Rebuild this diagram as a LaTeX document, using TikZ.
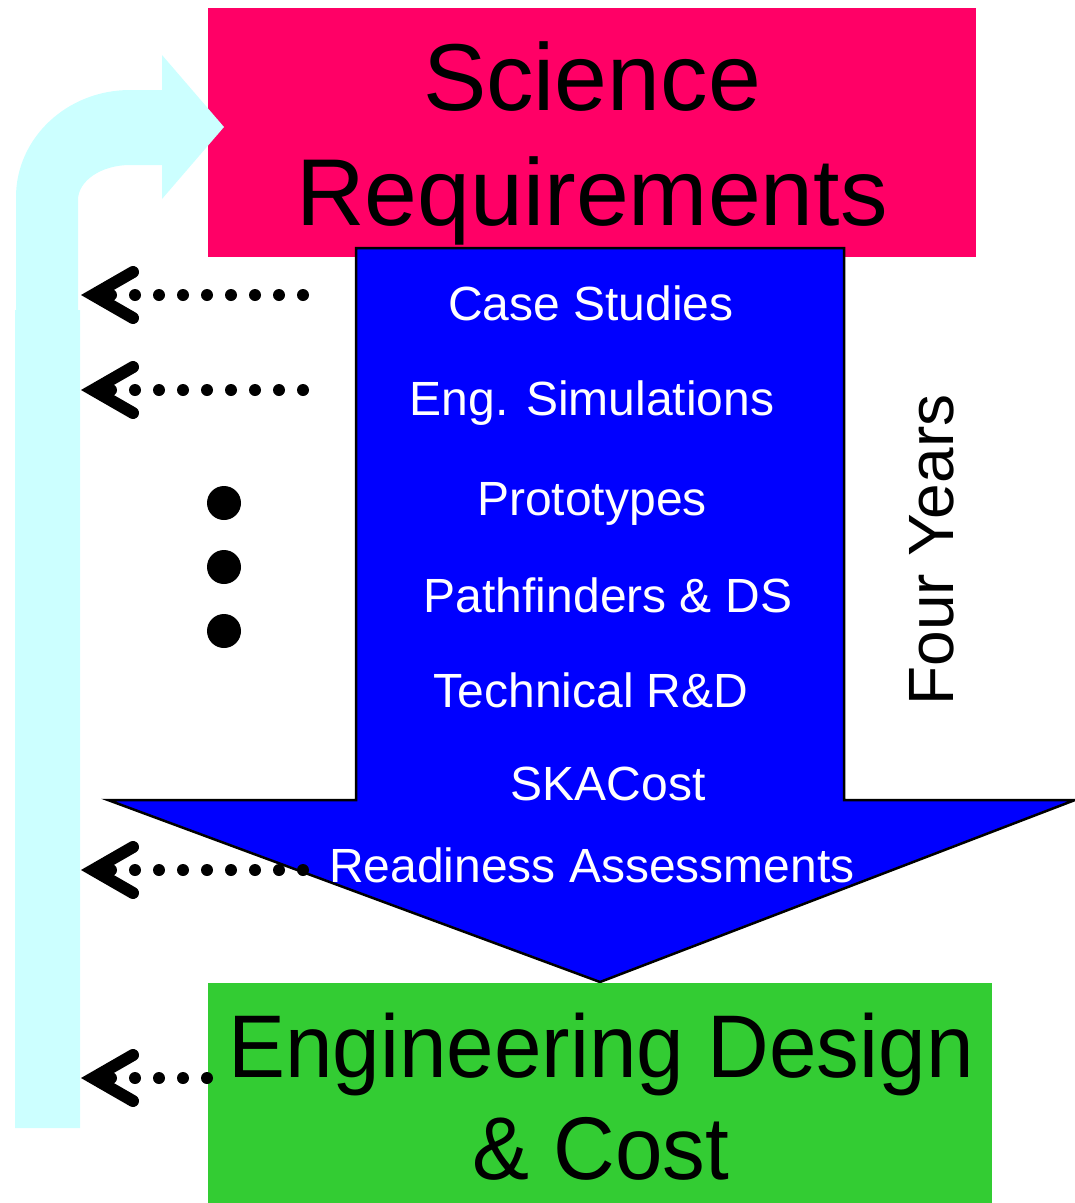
\documentclass[tikz,border=0pt]{standalone}
\usepackage{fontspec}
\setmainfont{Liberation Sans}
\newfontfamily\narrowsans[FakeStretch=0.96]{Liberation Sans}
\usetikzlibrary{arrows.meta}
\definecolor{scipink}{HTML}{FF0066}
\definecolor{engreen}{HTML}{33CC33}
\definecolor{flowblue}{HTML}{0000FF}
\definecolor{loopcyan}{HTML}{CCFFFF}
\tikzset{
  stage/.style={white,anchor=base,inner sep=0,font=\fontsize{48}{48}\selectfont},
  feedback/.style={line width=12pt,line cap=round,dash pattern=on 0pt off 24pt,
    -{Straight Barb[length=40pt,width=46pt,line width=12pt,line cap=round,line join=miter]}}
}

\begin{document}
\begin{tikzpicture}[x=1pt,y=-1pt]
\useasboundingbox (0,0) rectangle (1075,1203);
\node[fill=scipink,minimum width=768pt,minimum height=249pt,anchor=north west,inner sep=0] (sci) at (208,8) {};
\node[anchor=north,inner sep=0,align=center,font=\fontsize{95}{115}\selectfont] (scitext) at (592,41) {Science\\Requirements};
\fill[loopcyan] (15,1128) -- (15,310) -- (16,310) -- (16,197) .. controls (16,138) and (67,90) .. (130,90)
  -- (162,90) -- (162,55) -- (224,127) -- (162,199) -- (162,165) -- (130,165)
  .. controls (101,165) and (78,181) .. (78,200) -- (78,310) -- (80,310) -- (80,1128) -- cycle;
\filldraw[fill=flowblue,draw=black,line width=2.5pt] (356,248) -- (844,248) -- (844,800) -- (1075,800)
  -- (600,982) -- (108,800) -- (356,800) -- cycle;
\node[stage] (cases) at (591,320) {Case Studies};
\node[stage] (engsim) at (592,415) {Eng. Simulations};
\node[stage] (proto) at (592,515) {Prototypes};
\node[stage] (pathf) at (608,612) {Pathfinders \& DS};
\node[stage] (techrd) at (591,707) {Technical R\&D};
\node[stage] (skacost) at (608,800) {SKACost};
\node[stage] (ready) at (592,882) {Readiness Assessments};
\node[fill=engreen,minimum width=784pt,minimum height=220pt,anchor=north west,inner sep=0] (eng) at (208,983) {};
\node[anchor=north,inner sep=0,align=center,font=\narrowsans\fontsize{89}{102}\selectfont] (engtext) at (601,1013) {Engineering Design\\\& Cost};
\node[rotate=90,anchor=base,inner sep=0,font=\fontsize{64}{64}\selectfont] (years) at (953,550) {Four Years};
\foreach \y in {503,567,631}
  \fill (224,\y) circle (17pt);
\foreach \y in {295,390,870} {
  \coordinate (fb\y) at (303,\y);
  \coordinate (lp\y) at (81,\y);
  \draw[feedback] (fb\y) -- (lp\y);
}
\coordinate (fbeng) at (207,1078);
\coordinate (lpeng) at (81,1078);
\draw[feedback] (fbeng) -- (lpeng);
\end{tikzpicture}
\end{document}
